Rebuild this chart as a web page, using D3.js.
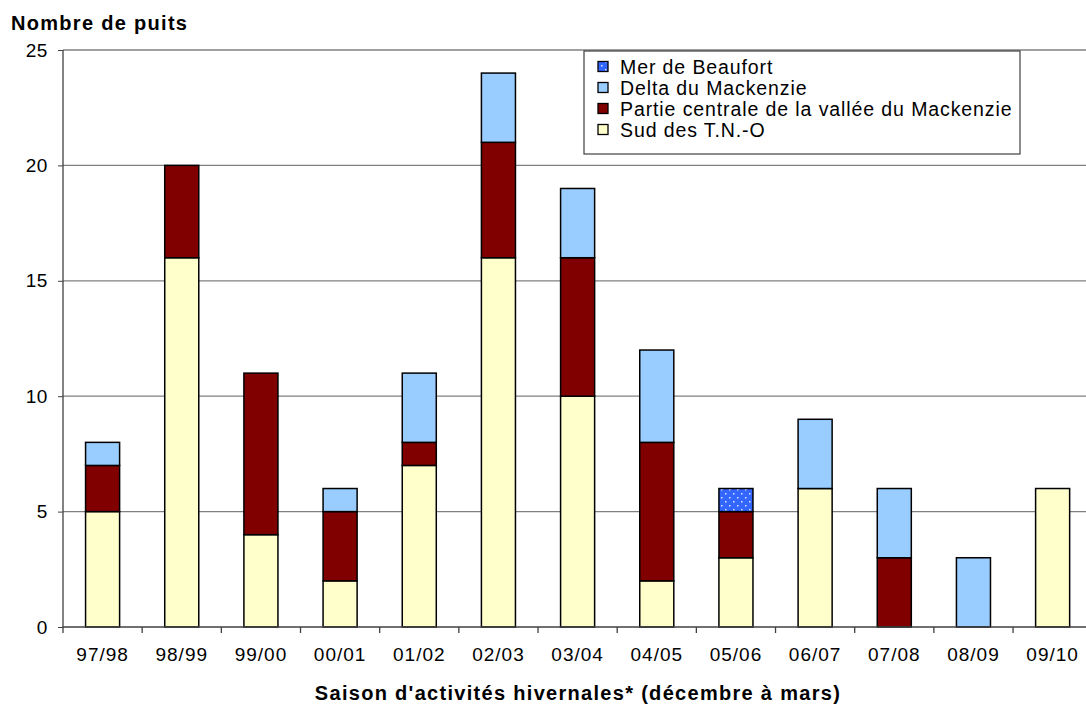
<!DOCTYPE html>
<html><head><meta charset="utf-8">
<script src="https://cdn.jsdelivr.net/npm/d3@7"></script>
<style>body{margin:0;background:#fff;}svg{display:block;font-family:"Liberation Sans",Arial,sans-serif;}</style>
</head><body>
<script>
const categories = ["97/98","98/99","99/00","00/01","01/02","02/03","03/04","04/05","05/06","06/07","07/08","08/09","09/10"];
const sud       = [5,16,4,2,7,16,10,2,3,6,0,0,6];
const centrale  = [2,4,7,3,1,5,6,6,2,0,3,0,0];
const delta     = [1,0,0,1,3,3,3,4,0,3,3,3,0];
const beaufort  = [0,0,0,0,0,0,0,0,1,0,0,0,0];
const seriesNames = ["Sud des T.N.-O","Partie centrale de la vallée du Mackenzie","Delta du Mackenzie","Mer de Beaufort"];
const seriesColors = ["#FFFFCC","#800000","#99CCFF","url(#dots)"];
const yTicks = [0,5,10,15,20,25];

const W=1086,H=706;
const FF="'Liberation Sans', Arial, sans-serif";
const svg=d3.select("body").append("svg").attr("width",W).attr("height",H);
const defs=svg.append("defs");
const pat=defs.append("pattern").attr("id","dots").attr("patternUnits","userSpaceOnUse").attr("width",8).attr("height",8);
pat.append("rect").attr("width",8).attr("height",8).attr("fill","#3366FF");
pat.append("rect").attr("x",1).attr("y",1).attr("width",1.5).attr("height",1.5).attr("fill","#dde6ff");
pat.append("rect").attr("x",5).attr("y",5).attr("width",1.5).attr("height",1.5).attr("fill","#dde6ff");

const x0=63, y0=627, yTop=50;
const band=79.17;
const x=d3.scaleBand().domain(categories).range([x0,x0+band*categories.length]).paddingInner(0.57).paddingOuter(0.285);
const y=d3.scaleLinear().domain([0,25]).range([y0,yTop]);

// gridlines
svg.append("g").selectAll("line").data(yTicks.filter(d=>d>0)).join("line")
 .attr("x1",x0).attr("x2",W).attr("y1",d=>y(d)).attr("y2",d=>y(d))
 .attr("stroke","#808080").attr("stroke-width",1.3);

const rows=categories.map((c,i)=>({cat:c,s0:sud[i],s1:centrale[i],s2:delta[i],s3:beaufort[i]}));
const stack=d3.stack().keys(["s0","s1","s2","s3"])(rows);
svg.append("g").selectAll("g").data(stack).join("g")
 .attr("fill",(d,i)=>seriesColors[i])
 .selectAll("rect").data(d=>d.filter(e=>e[1]-e[0]>0)).join("rect")
 .attr("x",d=>x(d.data.cat)).attr("width",x.bandwidth())
 .attr("y",d=>y(d[1])).attr("height",d=>y(d[0])-y(d[1]))
 .attr("stroke","#000").attr("stroke-width",1.5);

// y axis
const ya=svg.append("g").attr("transform",`translate(${x0},0)`)
 .call(d3.axisLeft(y).tickValues(yTicks).tickSize(5).tickPadding(10).tickFormat(d3.format("d")));
ya.select(".domain").attr("stroke","#404040").attr("stroke-width",1.3).attr("d",`M-0,${y0}V${yTop}`);
ya.selectAll(".tick line").attr("stroke","#404040");
ya.selectAll("text").attr("font-size",19).attr("letter-spacing","0.6px").attr("fill","#000").attr("font-family",FF);

// x axis
const xa=svg.append("g").attr("transform",`translate(0,${y0})`)
 .call(d3.axisBottom(x).tickSize(0).tickPadding(21));
xa.select(".domain").remove();
xa.selectAll("text").attr("font-size",19).attr("letter-spacing","1px").attr("fill","#000").attr("font-family",FF);
svg.append("line").attr("x1",x0).attr("x2",W).attr("y1",y0).attr("y2",y0).attr("stroke","#404040").attr("stroke-width",1.3);
svg.append("g").selectAll("line").data(d3.range(categories.length+1)).join("line")
 .attr("x1",i=>x0+i*band).attr("x2",i=>x0+i*band).attr("y1",y0).attr("y2",y0+6)
 .attr("stroke","#404040").attr("stroke-width",1.3);

// titles
svg.append("text").attr("x",11).attr("y",30).attr("font-size",20).attr("letter-spacing","1.3px").attr("font-weight","bold").text("Nombre de puits");
svg.append("text").attr("x",578).attr("y",700).attr("text-anchor","middle").attr("font-size",20).attr("letter-spacing","1.3px").attr("font-weight","bold").text("Saison d'activités hivernales* (décembre à mars)");

// legend
const lg=svg.append("g");
lg.append("rect").attr("x",584).attr("y",51).attr("width",436).attr("height",103).attr("fill","#fff").attr("stroke","#404040").attr("stroke-width",1.2);
const order=[3,2,1,0];
order.forEach((si,k)=>{
  const cy=66.5+k*21;
  lg.append("rect").attr("x",598).attr("y",cy-5).attr("width",10).attr("height",10).attr("fill",seriesColors[si]).attr("stroke","#000").attr("stroke-width",1.3);
  lg.append("text").attr("x",620).attr("y",cy+7).attr("font-size",19.5).attr("letter-spacing","0.9px").text(seriesNames[si]);
});
</script>
</body></html>
